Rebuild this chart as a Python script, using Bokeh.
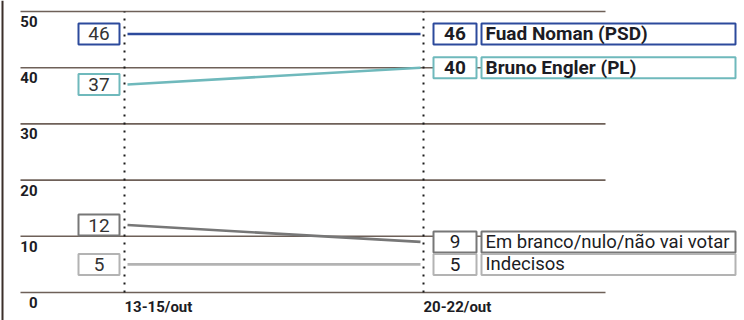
from bokeh.plotting import figure
from bokeh.models import Range1d, Span
from bokeh.core.properties import value
from bokeh.embed import file_html
from bokeh.resources import INLINE

# ---- data ----
periods = ["13-15/out", "20-22/out"]
names = ["Fuad Noman (PSD)", "Bruno Engler (PL)", "Em branco/nulo/não vai votar", "Indecisos"]
first = [46, 37, 12, 5]
last = [46, 40, 9, 5]
colors = ["#2c4a9c", "#6fb9bc", "#777777", "#b3b3b3"]
bold = [True, True, False, False]
yticks = [0, 10, 20, 30, 40, 50]

# ---- layout (pixels) ----
W, H = 744, 320
X0PX, X1PX = 124, 423      # pixel positions of the two periods
Y0PX, PYU = 292, 5.62      # pixel of value 0, pixels per unit
PXU = X1PX - X0PX

def xd(px):
    return (px - X0PX) / PXU

p = figure(width=W, height=H, output_backend="svg", toolbar_location=None,
           x_axis_type=None, y_axis_type=None, min_border=0,
           x_range=Range1d(xd(0), xd(W)),
           y_range=Range1d(-(H - Y0PX) / PYU, Y0PX / PYU))
p.grid.visible = False
p.outline_line_color = None
p.background_fill_color = "white"
p.border_fill_color = "white"

FONT = value("Roboto")

# left frame line
p.add_layout(Span(location=xd(2), dimension="height", line_color="#3b2f2a", line_width=2))

# gridlines
p.segment(x0=[xd(20)] * len(yticks), x1=[xd(605)] * len(yticks), y0=yticks, y1=yticks,
          line_color="#6e6058", line_width=1.6)
# y tick labels
p.text(x=[xd(37)] * len(yticks), y=yticks, text=[str(t) for t in yticks],
       text_align="right", text_baseline="alphabetic", y_offset=10,
       text_font=FONT, text_font_style="bold", text_font_size="15px", text_color="#1c1c24")

# dotted period lines
xs_period = list(range(len(periods)))
p.segment(x0=xs_period, x1=xs_period, y0=[yticks[0]] * 2, y1=[yticks[-1]] * 2,
          line_color="#1c1c1c", line_width=2, line_dash="2 6")

# series lines
inset = 3 / PXU
for f, l, c in zip(first, last, colors):
    p.line([xs_period[0] + inset, xs_period[1] - inset], [f, l], line_color=c, line_width=2.6)

# left value boxes
p.rect(x=[xd(98.5)] * 4, y=first, width=41, height=21, width_units="screen", height_units="screen",
       fill_color="white", line_color=colors, line_width=2)
p.text(x=[xd(98.5)] * 4, y=first, text=[str(v) for v in first], text_align="center",
       text_baseline="middle", text_font=FONT, text_font_size="19px", text_color="#333333")

# right value boxes
p.rect(x=[xd(454.5)] * 4, y=last, width=43, height=21, width_units="screen", height_units="screen",
       fill_color="white", line_color=colors, line_width=2)
p.rect(x=[xd(608)] * 4, y=last, width=254, height=21, width_units="screen", height_units="screen",
       fill_color="white", line_color=colors, line_width=2)
for v, n, b in zip(last, names, bold):
    style = "bold" if b else "normal"
    size = "19px" if b else "18.5px"
    p.text(x=[xd(454.5)], y=[v], text=[str(v)], text_align="center", text_baseline="middle",
           text_font=FONT, text_font_style=style, text_font_size="19px", text_color="#1c1c24")
    p.text(x=[xd(485)], y=[v], text=[n], text_align="left", text_baseline="middle",
           text_font=FONT, text_font_style=style, text_font_size=size, text_color="#1c1c24")

# period labels
p.text(x=xs_period, y=[yticks[0]] * 2, text=periods, text_align="left", text_baseline="alphabetic",
       y_offset=14, text_font=FONT, text_font_style="bold", text_font_size="15px", text_color="#1c1c24")

open("out.html", "w").write(file_html(p, INLINE))
